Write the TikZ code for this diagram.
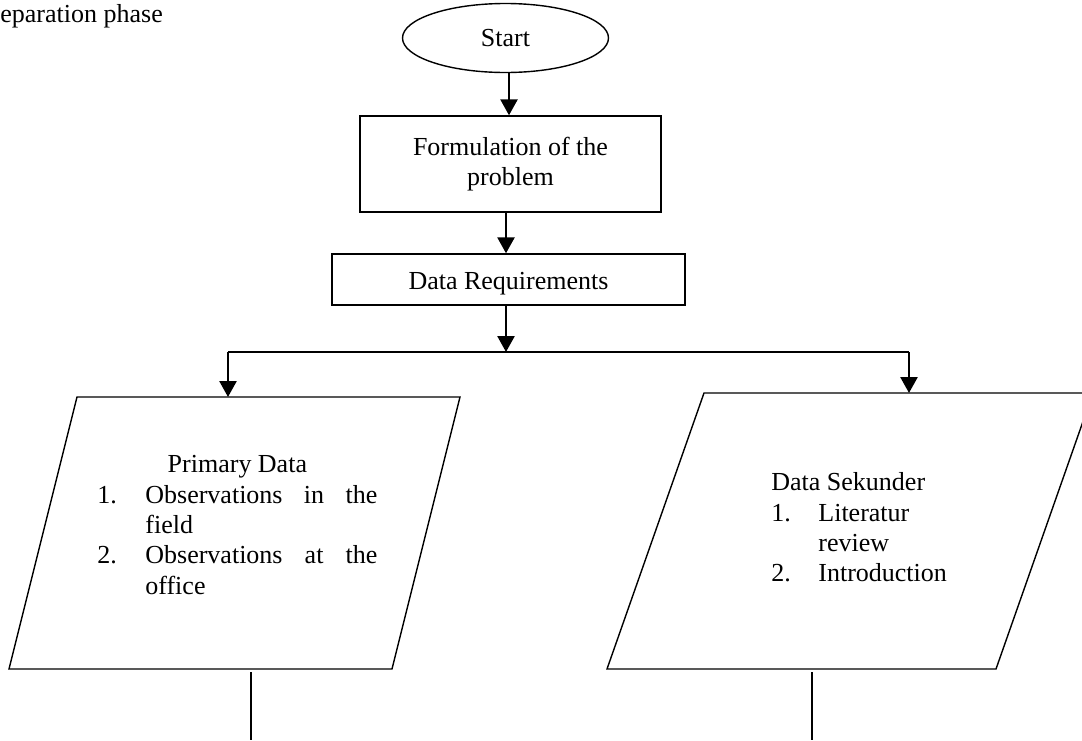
\documentclass[tikz,border=0pt]{standalone}
\usepackage{fontspec}
\setmainfont{Liberation Serif}
\usetikzlibrary{arrows.meta,shapes.geometric}

\begin{document}
\begin{tikzpicture}[
    x=0.5pt, y=-0.5pt,
    font=\fontsize{13}{15.2}\selectfont,
    startnode/.style={ellipse, draw, line width=0.7pt,
                      minimum width=103pt, minimum height=34.5pt, inner sep=0pt},
    procbox/.style={rectangle, draw, line width=0.7pt, align=center, inner sep=0pt},
    datapara/.style={draw, line width=0.7pt, line join=miter},
    listtext/.style={inner sep=0pt, anchor=north west},
    arr/.style={-{Triangle[length=8pt,width=8.5pt]}, line width=1.3pt},
    link/.style={line width=0.8pt},
    thinlink/.style={line width=0.6pt}
]
\useasboundingbox (0,0) rectangle (1082,740);

\node[anchor=base west, inner sep=0pt] (phase) at (0,22) {eparation phase};

\node[startnode] (start) at (505.5,38) {Start};
\node[procbox, minimum width=150.5pt, minimum height=48pt] (form) at (510.5,164)
    {Formulation of the\\problem};
\node[procbox, minimum width=176.5pt, minimum height=25.5pt,
      text height=10pt, text depth=0pt] (req) at (508.5,279.5)
    {Data Requirements};

% data boxes (parallelograms)
\coordinate (primNW) at (77,397);
\coordinate (primNE) at (460,397);
\coordinate (primSE) at (392,669);
\coordinate (primSW) at (9,669);
\coordinate (secNW) at (704,393);
\coordinate (secNE) at (1093,393);
\coordinate (secSE) at (996,669);
\coordinate (secSW) at (607,669);
\draw[datapara] (primNW) -- (primNE) -- (primSE) -- (primSW) -- cycle;
\draw[datapara] (secNW) -- (secNE) -- (secSE) -- (secSW) -- cycle;

\node[listtext] (primtxt) at (97,451) {%
  \begin{tabular}{@{}p{24pt}@{}p{116pt}@{}}
  \multicolumn{2}{c}{Primary Data}\\
  1. & \makebox[116pt][s]{Observations in the}\\
     & field\\
  2. & \makebox[116pt][s]{Observations at the}\\
     & office
  \end{tabular}};
\node[listtext] (sectxt) at (771,469) {%
  \begin{tabular}{@{}p{23.5pt}@{}l@{}}
  \multicolumn{2}{@{}l}{Data Sekunder}\\
  1. & Literatur\\
     & review\\
  2. & Introduction
  \end{tabular}};

\coordinate (split) at (506,352);
\coordinate (lsplit) at (228,352);
\coordinate (rsplit) at (909,352);
\coordinate (primout) at (251,740);
\coordinate (secout) at (812,740);

\draw[arr] (start.south -| 509,0) -- (form.north -| 509,0);
\draw[arr] (form.south -| 506,0) -- (req.north -| 506,0);
\draw[arr] (req.south -| split) -- (split);
\draw[link] (lsplit) -- (rsplit);
\draw[arr] (lsplit) -- (lsplit |- primNW);
\draw[arr] (rsplit) -- (rsplit |- secNW);
\draw[thinlink] (primout |- primSW) ++(0,3) -- (primout);
\draw[thinlink] (secout |- secSW) ++(0,3) -- (secout);

\end{tikzpicture}
\end{document}
